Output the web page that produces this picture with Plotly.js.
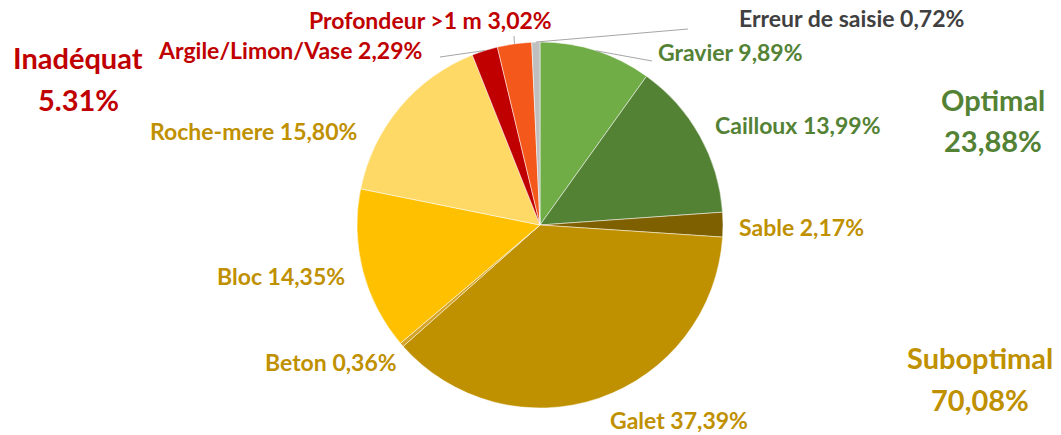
<!DOCTYPE html>
<html>
<head>
<meta charset="utf-8">
<script src="https://cdn.plot.ly/plotly-3.0.1.min.js"></script>
<style>html,body{margin:0;padding:0;background:#fff;}#chart{width:1061px;height:435px;}</style>
</head>
<body>
<div id="chart"></div>
<script>
// ---- data ----
const categories = ["Gravier", "Cailloux", "Sable", "Galet", "Beton", "Bloc", "Roche-mere", "Argile/Limon/Vase", "Profondeur >1 m", "Erreur de saisie"];
const values = [9.89, 13.99, 2.17, 37.39, 0.36, 14.35, 15.80, 2.29, 3.02, 0.72];
const valueLabels = ["9,89%", "13,99%", "2,17%", "37,39%", "0,36%", "14,35%", "15,80%", "2,29%", "3,02%", "0,72%"];
const groupNames = ["Optimal", "Suboptimal", "Inadéquat"];
const groupLabels = ["23,88%", "70,08%", "5.31%"];

// ---- styling ----
const W = 1061, H = 435;
const sliceColors = ["#70AD47", "#548235", "#7F6000", "#BF9000", "#D4A52A", "#FFC000", "#FFD966", "#C00000", "#F4581A", "#BFBFBF"];
const GREEN = "#548235", GOLD = "#BF9000", RED = "#C00000", GREY = "#404040";
const labelColors = [GREEN, GREEN, GOLD, GOLD, GOLD, GOLD, GOLD, RED, RED, GREY];
// label centers in pixels
const labelPos = [[730, 52], [798, 125], [801, 227], [679, 420], [331, 362], [281, 276], [253, 131], [290, 50], [430, 20], [851, 18]];
// leader line end points (pixels), null = no leader
const leaderEnd = [[652, 61], null, null, null, null, null, null, [440, 57], [514, 36], [688, 29]];
const groupPos = [[993, 100, 140], [980, 357, 399], [78, 58, 100]];
const groupColors = [GREEN, GOLD, RED];

const cx = 540, cy = 225, R = 183;
const px = x => x / W, py = y => 1 - y / H;

const FONT = "Lato, 'Open Sans', sans-serif";
const annotations = [];
categories.forEach((c, i) => {
  annotations.push({
    x: px(labelPos[i][0]), y: py(labelPos[i][1]), xref: "paper", yref: "paper",
    text: "<b>" + c + " " + valueLabels[i] + "</b>", showarrow: false,
    xanchor: "center", yanchor: "middle", borderpad: 0,
    font: {family: FONT, size: 23, color: labelColors[i]}
  });
});
groupNames.forEach((g, i) => {
  annotations.push({x: px(groupPos[i][0]), y: py(groupPos[i][1]), xref: "paper", yref: "paper",
    text: "<b>" + g + "</b>", showarrow: false, xanchor: "center", yanchor: "middle", borderpad: 0,
    font: {family: FONT, size: 29, color: groupColors[i]}});
  annotations.push({x: px(groupPos[i][0]), y: py(groupPos[i][2]), xref: "paper", yref: "paper",
    text: "<b>" + groupLabels[i] + "</b>", showarrow: false, xanchor: "center", yanchor: "middle", borderpad: 0,
    font: {family: FONT, size: 29, color: groupColors[i]}});
});

// leader lines from slice mid-angle computed from values
const total = values.reduce((a, b) => a + b, 0);
const shapes = [];
let cum = 0;
values.forEach((v, i) => {
  const mid = (cum + v / 2) / total * 2 * Math.PI;
  cum += v;
  if (!leaderEnd[i]) return;
  const sx = cx + R * Math.sin(mid), sy = cy - R * Math.cos(mid);
  shapes.push({type: "line", xref: "paper", yref: "paper",
    x0: px(sx), y0: py(sy), x1: px(leaderEnd[i][0]), y1: py(leaderEnd[i][1]),
    line: {color: "#A6A6A6", width: 1}});
});

const trace = {
  type: "pie", labels: categories, values: values, sort: false, direction: "clockwise", rotation: 0,
  marker: {colors: sliceColors, line: {color: "#FFFFFF", width: 0.5}},
  textinfo: "none", hoverinfo: "label+percent", showlegend: false,
  domain: {x: [px(cx - R), px(cx + R)], y: [py(cy + R), py(cy - R)]}
};

Plotly.newPlot("chart", [trace], {
  width: W, height: H, margin: {l: 0, r: 0, t: 0, b: 0},
  paper_bgcolor: "#fff", plot_bgcolor: "#fff", showlegend: false,
  annotations: annotations, shapes: shapes
}, {displayModeBar: false, staticPlot: true});
</script>
</body>
</html>
